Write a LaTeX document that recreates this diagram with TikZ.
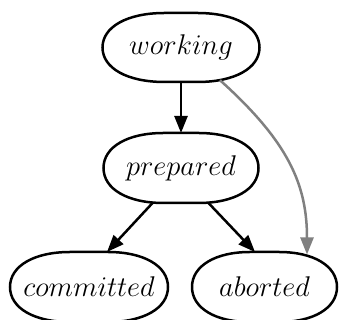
\RequirePackage{fix-cm}
\documentclass[tikz,border=0pt]{standalone}
\usetikzlibrary{arrows.meta,calc}
\tikzset{
  stlabel/.style={inner sep=0pt, outer sep=0pt, font=\fontsize{28.5}{34}\selectfont},
  stline/.style={line width=2.5pt, black},
  edge/.style={line width=2.5pt, -{Triangle[length=17pt,width=13pt]}},
  grayedge/.style={line width=2.5pt, draw={rgb,255:red,128;green,128;blue,128}, -{Triangle[length=17pt,width=13pt]}},
}
\def\kk{0.6}
\newcommand{\stbox}[7]{% name, x, y, w, h, rx, text
  \node[stlabel, minimum width=#4pt, minimum height=#5pt] (#1) at (#2pt,#3pt) {#7};
  \draw[stline] ([xshift=#6pt]#1.north west) -- ([xshift=-#6pt]#1.north east)
    .. controls ([xshift={-(1-\kk)*#6pt}]#1.north east) and ([yshift={\kk*#5pt/2}]#1.east) .. (#1.east)
    .. controls ([yshift={-\kk*#5pt/2}]#1.east) and ([xshift={-(1-\kk)*#6pt}]#1.south east) .. ([xshift=-#6pt]#1.south east)
    -- ([xshift=#6pt]#1.south west)
    .. controls ([xshift={(1-\kk)*#6pt}]#1.south west) and ([yshift={-\kk*#5pt/2}]#1.west) .. (#1.west)
    .. controls ([yshift={\kk*#5pt/2}]#1.west) and ([xshift={(1-\kk)*#6pt}]#1.north west) .. ([xshift=#6pt]#1.north west)
    -- cycle;
}
\begin{document}
\begin{tikzpicture}
\useasboundingbox (0,0) rectangle (345pt,320pt);
\stbox{working}{181}{272.5}{157}{69}{62}{$working$}
\stbox{prepared}{181}{152}{155}{70}{60}{$prepared$}
\stbox{committed}{89}{33}{158}{70}{60}{$committed$}
\stbox{aborted}{264.5}{33}{145}{70}{58}{$aborted$}
\draw[edge] (working.south) -- (prepared.north);
\draw[edge] ($(prepared.south)+(-28pt,0.5pt)$) -- ($(committed.north)+(18pt,0)$);
\draw[edge] ($(prepared.south)+(27pt,0.5pt)$) -- ($(aborted.north)+(-9.5pt,0)$);
\draw[grayedge] ($(working.south)+(39pt,1.8pt)$) .. controls +(-42:92pt) and +(90:70pt) .. ($(aborted.north)+(42.5pt,-2.5pt)$);
\end{tikzpicture}
\end{document}
